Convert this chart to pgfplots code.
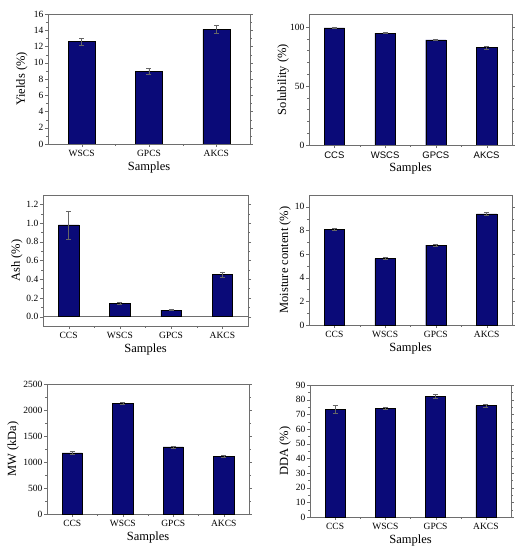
\documentclass[border=0pt]{standalone}
\usepackage{pgfplots}
\pgfplotsset{compat=1.18}
\usepackage{fontspec}
\setmainfont{Liberation Serif}
\newfontfamily\arialfont{Liberation Sans}
\definecolor{barblue}{HTML}{0A0A78}
\definecolor{frame}{HTML}{6E6E6E}
\tikzset{plab/.style={font=\fontsize{13}{13}\selectfont}}
\pgfplotsset{
  panel/.style={
    width=202pt, height=130pt, scale only axis,
    ybar, bar width=0.4,
    xtick=data, xmin=-0.5,
    /pgf/number format/assume math mode=true,
    tick label style={font=\fontsize{9.5}{10}\selectfont},
    yticklabel style={inner sep=1.5pt},
    label style={font=\fontsize{12.5}{13}\selectfont},
    xlabel={Samples},
    axis line style={frame},
    tick style={frame},
    tick align=outside,
    major tick length=3pt, minor tick length=1.6pt,
    ytick pos=both, xtick pos=bottom,
    minor y tick num=1,
    minor xtick={0.5,1.5,2.5},
    ymin=0,
    xlabel style={yshift=2pt},
  },
  ylpos/.style={ylabel style={at={(axis description cs:#1,0.5)}, anchor=center}},
  barsty/.style={fill=barblue, draw=black, line width=0.4pt,
      error bars/.cd, y dir=both, y explicit,
      error bar style={gray!80!black, line width=0.4pt},
      error mark options={rotate=90, mark size=2.5pt, gray!80!black}},
}
\begin{document}
\begin{tikzpicture}
\useasboundingbox (0pt,0pt) rectangle (526pt,550pt);
% A
\begin{axis}[panel, at={(48pt,406pt)}, anchor=south west,
  xmax=2.5, xticklabels={WSCS,GPCS,AKCS}, minor xtick={0.5,1.5},
  ymax=16, ytick={0,2,...,16}, ylabel={Yields (\%)}, ylpos=-0.129]
\addplot[barsty] coordinates {(0,12.6) +- (0,0.4) (1,8.95) +- (0,0.4) (2,14.1) +- (0,0.5)};
\node[plab] at (rel axis cs:-0.114,0.985) {A};
\end{axis}
% B
\begin{axis}[panel, at={(309pt,405pt)}, anchor=south west, width=203pt, height=131pt,
  xmax=3.5, xticklabels={CCS,WSCS,GPCS,AKCS},
  xticklabel style={font=\arialfont\fontsize{9.5}{10}\selectfont},
  ymax=111, ytick={0,50,100}, minor y tick num=4, ylabel={Solubility (\%)}, ylpos=-0.128]
\addplot[barsty] coordinates {(0,99.2) +- (0,0.4) (1,94.8) +- (0,0.4) (2,89.0) +- (0,0.4) (3,82.6) +- (0,1.2)};
\node[plab] at (rel axis cs:-0.10,0.977) {B};
\end{axis}
% C
\begin{axis}[panel, at={(43pt,224pt)}, anchor=south west, width=205pt, height=131pt,
  xmax=3.5, xticklabels={CCS,WSCS,GPCS,AKCS},
  ymin=-0.1, ymax=1.3, ytick={0,0.2,...,1.2},
  yticklabel style={/pgf/number format/.cd, fixed, fixed zerofill, precision=1},
  extra y ticks={0}, extra y tick labels={},
  extra y tick style={grid=major, major grid style={frame, line width=0.5pt}},
  ylabel={Ash (\%)}, ylpos=-0.127]
\addplot[barsty] coordinates {(0,0.98) +- (0,0.15) (1,0.14) +- (0,0.01) (2,0.07) +- (0,0.006) (3,0.45) +- (0,0.03)};
\node[plab] at (rel axis cs:-0.105,0.96) {C};
\end{axis}
% D
\begin{axis}[panel, at={(309pt,225pt)}, anchor=south west, width=203pt, height=130pt,
  xmax=3.5, xticklabels={CCS,WSCS,GPCS,AKCS},
  ymax=11, ytick={0,2,...,10}, ylabel={Moisture content (\%)}, ylpos=-0.118]
\addplot[barsty] coordinates {(0,8.1) +- (0,0.1) (1,5.62) +- (0,0.08) (2,6.75) +- (0,0.06) (3,9.4) +- (0,0.15)};
\node[plab] at (rel axis cs:-0.084,0.97) {D};
\end{axis}
% E
\begin{axis}[panel, at={(47pt,36pt)}, anchor=south west, width=202pt, height=130pt,
  xmax=3.5, xticklabels={CCS,WSCS,GPCS,AKCS},
  ymax=2500, ytick={0,500,...,2500}, ylabel={MW (kDa)}, ylpos=-0.168,
  yticklabel style={/pgf/number format/.cd, set thousands separator={}}]
\addplot[barsty] coordinates {(0,1175) +- (0,25) (1,2130) +- (0,20) (2,1290) +- (0,15) (3,1110) +- (0,25)};
\node[plab] at (rel axis cs:-0.148,0.99) {E};
\end{axis}
% F
\begin{axis}[panel, at={(310pt,33pt)}, anchor=south west, width=201pt, height=132pt,
  xmax=3.5, xticklabels={CCS,WSCS,GPCS,AKCS},
  ymax=90, ytick={0,10,...,90}, ylabel={DDA (\%)}, ylpos=-0.124]
\addplot[barsty] coordinates {(0,73.5) +- (0,2.5) (1,74.1) +- (0,0.9) (2,82.1) +- (0,1.3) (3,76.0) +- (0,1.2)};
\node[plab] at (rel axis cs:-0.095,0.985) {F};
\end{axis}
\end{tikzpicture}
\end{document}
